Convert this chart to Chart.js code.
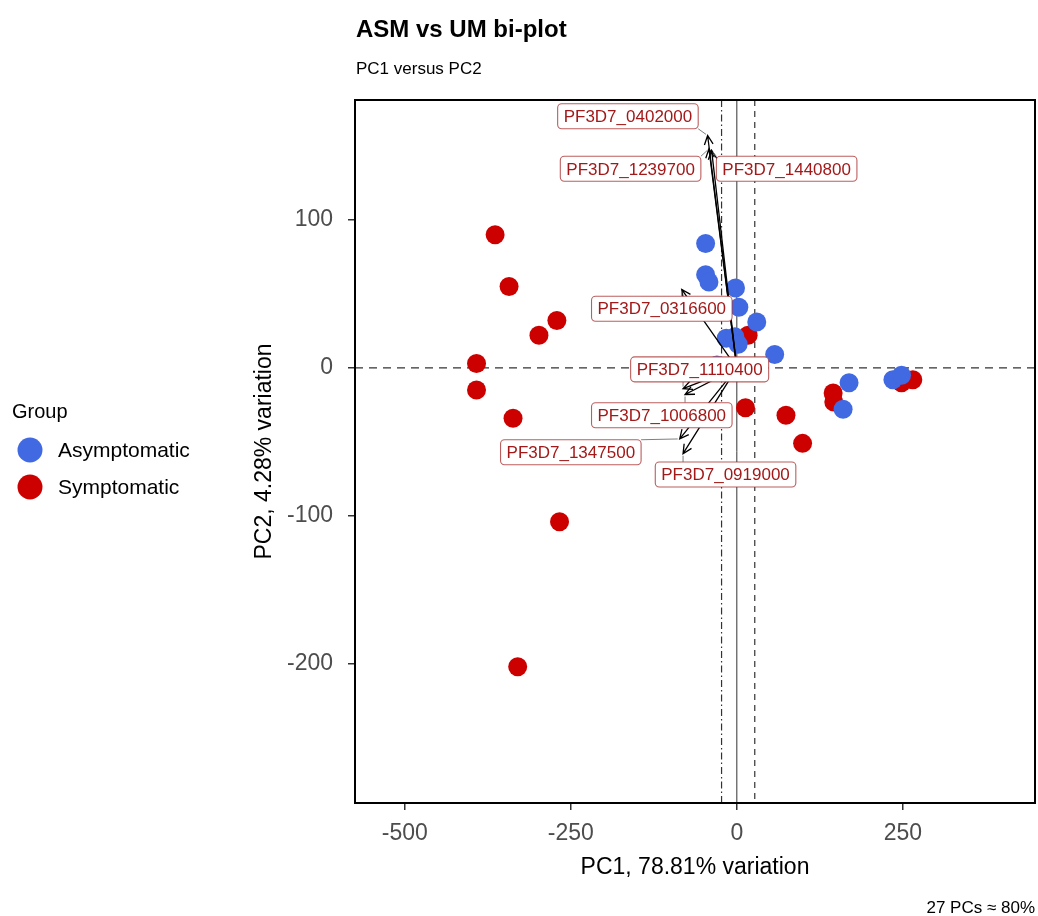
<!DOCTYPE html>
<html>
<head>
<meta charset="utf-8">
<title>ASM vs UM bi-plot</title>
<script src="https://cdn.jsdelivr.net/npm/chart.js@4/dist/chart.umd.min.js"></script>
<style>
  html, body { margin: 0; padding: 0; background: #ffffff; }
  #wrap { width: 1038px; height: 916px; }
</style>
</head>
<body>
<div id="wrap"><canvas id="biplot" width="1038" height="916"></canvas></div>
<script>
// --- sample scores (PC1, PC2) ---
const asymPC1 = [-47, -47, -42, -2, 3, 30, 57, -16, -3, 2, -30, 30, 169, 160, 235, 248];
const asymPC2 = [84, 63, 58, 54, 41, 31, 9, 20, 21, 16, 2, 1, -10, -28, -8, -5];
const sympPC1 = [-364, -343, -271, -298, -392, -392, -337, -267, -330, 13, 74, 99, 17, 145, 146, 265, 248];
const sympPC2 = [90, 55, 32, 22, 3, -15, -34, -104, -202, -27, -32, -51, 22, -17, -23, -8, -10];

// --- loadings (arrow tips) and where the labels ended up ---
const loadingGenes = ['PF3D7_0402000', 'PF3D7_1239700', 'PF3D7_1440800', 'PF3D7_0316600',
                      'PF3D7_1110400', 'PF3D7_1006800', 'PF3D7_1347500', 'PF3D7_0919000'];
const loadingPC1 = [-44, -42, -38, -83, -81, -78, -86, -81];
const loadingPC2 = [157, 148, 147, 53, -14, -18, -48, -58];
const labelPC1 = [-164, -160, 75, -113, -56, -113, -250, -17];
const labelPC2 = [170, 134.5, 134.5, 40, -1, -32, -57, -72];

// --- axes ---
const xTicks = [-500, -250, 0, 250];
const yTicks = [100, 0, -100, -200];
const hLinePos = [0];          // dashed
const vLinePos = [0, -23, 27]; // solid, dot-dash, dashed

const FONT = '"Liberation Sans", Arial, Helvetica, sans-serif';
const BLUE = '#4169E1';
const RED = '#CD0000';

function toPoints(xs, ys) {
    return xs.map((x, i) => ({ x: x, y: ys[i] }));
}

// reference lines, arrows, labels, titles, legend
const biplotDecor = {
    id: 'biplotDecor',
    beforeDatasetsDraw(chart) {
        const { ctx, chartArea: a, scales: { x, y } } = chart;
        ctx.save();
        ctx.beginPath();
        ctx.rect(a.left, a.top, a.right - a.left, a.bottom - a.top);
        ctx.clip();
        ctx.strokeStyle = '#333333';
        ctx.lineWidth = 1.2;
        // horizontal dashed
        hLinePos.forEach(v => {
            const py = y.getPixelForValue(v);
            ctx.setLineDash([8, 6]);
            ctx.beginPath();
            ctx.moveTo(a.left, py);
            ctx.lineTo(a.right, py);
            ctx.stroke();
        });
        // vertical lines
        const dashes = [[], [7, 3, 1.5, 3], [6, 5]];
        vLinePos.forEach((v, i) => {
            const px = x.getPixelForValue(v);
            ctx.setLineDash(dashes[i] || []);
            ctx.lineWidth = i === 0 ? 1 : 1.2;
            ctx.beginPath();
            ctx.moveTo(px, a.top);
            ctx.lineTo(px, a.bottom);
            ctx.stroke();
        });
        ctx.restore();
    },
    afterDatasetsDraw(chart) {
        const { ctx, chartArea: a, scales: { x, y } } = chart;
        const ox = x.getPixelForValue(0);
        const oy = y.getPixelForValue(0);

        ctx.save();
        // arrows
        ctx.strokeStyle = '#000000';
        ctx.lineWidth = 1.3;
        ctx.setLineDash([]);
        loadingGenes.forEach((g, i) => {
            const tx = x.getPixelForValue(loadingPC1[i]);
            const ty = y.getPixelForValue(loadingPC2[i]);
            const ang = Math.atan2(ty - oy, tx - ox);
            const len = 10, spread = Math.PI / 7;
            ctx.beginPath();
            ctx.moveTo(ox, oy);
            ctx.lineTo(tx, ty);
            ctx.moveTo(tx - len * Math.cos(ang - spread), ty - len * Math.sin(ang - spread));
            ctx.lineTo(tx, ty);
            ctx.lineTo(tx - len * Math.cos(ang + spread), ty - len * Math.sin(ang + spread));
            ctx.stroke();
        });

        // label boxes
        ctx.font = '17px ' + FONT;
        const boxes = loadingGenes.map((g, i) => {
            const w = ctx.measureText(g).width + 12;
            const h = 25;
            const cx = x.getPixelForValue(labelPC1[i]);
            const cy = y.getPixelForValue(labelPC2[i]);
            return { g: g, l: cx - w / 2, t: cy - h / 2, w: w, h: h, cx: cx, cy: cy };
        });
        // connector segments
        ctx.strokeStyle = '#7f7f7f';
        ctx.lineWidth = 1;
        boxes.forEach((b, i) => {
            const tx = x.getPixelForValue(loadingPC1[i]);
            const ty = y.getPixelForValue(loadingPC2[i]);
            const sx = Math.min(Math.max(tx, b.l), b.l + b.w);
            const sy = Math.min(Math.max(ty, b.t), b.t + b.h);
            const d = Math.hypot(tx - sx, ty - sy);
            if (d > 4) {
                const ex = tx - (tx - sx) * 2 / d;
                const ey = ty - (ty - sy) * 2 / d;
                ctx.beginPath();
                ctx.moveTo(sx, sy);
                ctx.lineTo(ex, ey);
                ctx.stroke();
            }
        });
        boxes.forEach(b => {
            ctx.beginPath();
            ctx.roundRect(b.l, b.t, b.w, b.h, 4);
            ctx.fillStyle = '#ffffff';
            ctx.fill();
            ctx.strokeStyle = 'rgba(165, 40, 40, 0.75)';
            ctx.lineWidth = 1.1;
            ctx.stroke();
            ctx.fillStyle = '#a31919';
            ctx.textAlign = 'center';
            ctx.textBaseline = 'middle';
            ctx.fillText(b.g, b.cx, b.cy + 1);
        });

        // panel border
        ctx.strokeStyle = '#000000';
        ctx.lineWidth = 2;
        ctx.strokeRect(a.left, a.top, a.right - a.left, a.bottom - a.top);
        ctx.restore();
    },
    afterDraw(chart) {
        const { ctx, chartArea: a } = chart;
        ctx.save();
        ctx.fillStyle = '#000000';
        ctx.textAlign = 'left';
        ctx.textBaseline = 'alphabetic';
        ctx.font = 'bold 24px ' + FONT;
        ctx.fillText('ASM vs UM bi-plot', 356, 37);
        ctx.font = '17px ' + FONT;
        ctx.fillText('PC1 versus PC2', 356, 74);

        // axis titles
        ctx.font = '23px ' + FONT;
        ctx.textAlign = 'center';
        ctx.fillText('PC1, 78.81% variation', (a.left + a.right) / 2, 874);
        ctx.save();
        ctx.translate(271, (a.top + a.bottom) / 2);
        ctx.rotate(-Math.PI / 2);
        ctx.fillText('PC2, 4.28% variation', 0, 0);
        ctx.restore();

        // caption
        ctx.font = '17px ' + FONT;
        ctx.textAlign = 'right';
        ctx.fillText('27 PCs \u2248 80%', 1035, 913);

        // legend
        ctx.textAlign = 'left';
        ctx.font = '20px ' + FONT;
        ctx.fillText('Group', 12, 418);
        ctx.font = '21px ' + FONT;
        ctx.textBaseline = 'middle';
        [['Asymptomatic', BLUE, 450], ['Symptomatic', RED, 487]].forEach(([txt, col, cy]) => {
            ctx.beginPath();
            ctx.arc(30, cy, 12.5, 0, Math.PI * 2);
            ctx.fillStyle = col;
            ctx.fill();
            ctx.fillStyle = '#000000';
            ctx.fillText(txt, 58, cy + 1);
        });
        ctx.restore();
    }
};

new Chart(document.getElementById('biplot'), {
    type: 'scatter',
    data: {
        datasets: [
            {
                label: 'Asymptomatic',
                data: toPoints(asymPC1, asymPC2),
                backgroundColor: BLUE,
                borderColor: BLUE,
                borderWidth: 0,
                pointRadius: 9.5,
                pointHoverRadius: 9.5
            },
            {
                label: 'Symptomatic',
                data: toPoints(sympPC1, sympPC2),
                backgroundColor: RED,
                borderColor: RED,
                borderWidth: 0,
                pointRadius: 9.5,
                pointHoverRadius: 9.5
            }
        ]
    },
    options: {
        responsive: false,
        devicePixelRatio: 1,
        animation: false,
        layout: { autoPadding: false, padding: { top: 100, right: 3, left: 0, bottom: 0 } },
        plugins: {
            legend: { display: false },
            title: { display: false },
            tooltip: { enabled: false }
        },
        scales: {
            x: {
                type: 'linear',
                min: -575,
                max: 449,
                afterBuildTicks: s => { s.ticks = xTicks.map(v => ({ value: v })); },
                afterFit: s => { s.height = 113; s.paddingLeft = 0; s.paddingRight = 0; },
                border: { display: false },
                grid: { drawOnChartArea: false, drawTicks: true, tickLength: 7, color: '#333333', lineWidth: 1.5 },
                ticks: { color: '#4d4d4d', font: { family: FONT, size: 23 }, padding: 10, maxRotation: 0 }
            },
            y: {
                type: 'linear',
                min: -294,
                max: 181,
                afterBuildTicks: s => { s.ticks = yTicks.map(v => ({ value: v })); },
                afterFit: s => { s.width = 355; s.paddingTop = 0; s.paddingBottom = 0; },
                border: { display: false },
                grid: { drawOnChartArea: false, drawTicks: true, tickLength: 7, color: '#333333', lineWidth: 1.5 },
                ticks: { color: '#4d4d4d', font: { family: FONT, size: 23 }, padding: 15 }
            }
        }
    },
    plugins: [biplotDecor]
});
</script>
</body>
</html>
